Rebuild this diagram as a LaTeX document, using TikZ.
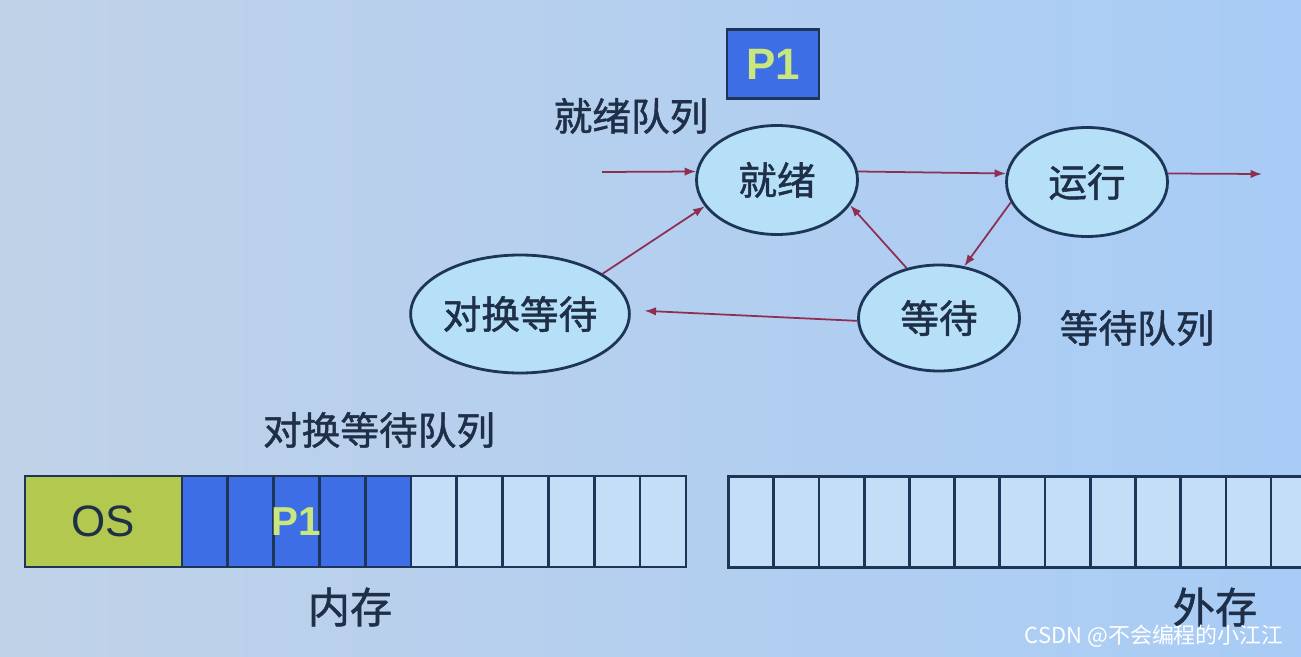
\documentclass[tikz,border=0pt]{standalone}
\usepackage{fontspec}
\setmainfont{Noto Sans CJK SC}
\newfontfamily\cjkmed[FakeBold=1.2]{Noto Sans CJK SC}
\setsansfont{Liberation Sans}
\usetikzlibrary{positioning,arrows.meta,shapes.geometric}
\definecolor{bgleft}{HTML}{C0D2E8}
\definecolor{bgright}{HTML}{A8CCF6}
\definecolor{ink}{HTML}{1E2F47}
\definecolor{edge}{HTML}{1D3557}
\definecolor{statefill}{HTML}{B5E0F7}
\definecolor{link}{HTML}{8E2F52}
\definecolor{procblue}{HTML}{3D6EE6}
\definecolor{osgreen}{HTML}{B3C84E}
\definecolor{pgreen}{HTML}{C9E77C}
\definecolor{freecell}{HTML}{C4DEF7}
\tikzset{
  state/.style={ellipse, draw=edge, line width=1.6pt, fill=statefill, text=ink, font=\fontsize{22}{24}\cjkmed, minimum width=3.22cm, minimum height=2.18cm, inner sep=0pt},
  lbl/.style={text=ink, font=\fontsize{22}{24}\cjkmed},
  cell/.style={draw=edge, line width=1.5pt, minimum width=0.92cm, minimum height=1.82cm, inner sep=0pt, fill=freecell},
  arr/.style={-{Latex[length=2.3mm,width=1.7mm]}, line width=1pt, link}}

\begin{document}
\begin{tikzpicture}[x=0.2mm, y=-0.2mm]
\clip (0,0) rectangle (1301,656);
\shade[left color=bgleft, right color=bgright] (0,0) rectangle (1301,656);
% states
\node[state] (ready) at (777,180) {就绪};
\node[state] (run) at (1087,182) {运行};
\node[state, minimum height=2.12cm] (wait) at (939,318) {等待};
\node[state, minimum width=4.08cm, minimum height=2.36cm] (swap) at (520,314) {对换等待};
\node[draw=edge, line width=1.2pt, fill=procblue, text=pgreen, font=\fontsize{25}{27}\sffamily\bfseries, minimum width=1.84cm, minimum height=1.38cm] (p1) at (773,64) {P1};
\node[lbl] (readyq) at (631,116) {就绪队列};
\node[lbl] (waitq) at (1137,328) {等待队列};
\node[lbl] (swapq) at (379,430) {对换等待队列};
\coordinate (in) at (602,172);
\coordinate (out) at (1262,174);
\draw[arr] (in) -- (ready.174);
\draw[arr] (ready.6) -- (run.174);
\draw[arr] (run.6) -- (out);
\draw[arr] (run.195) -- (wait.64);
\draw[arr] (wait.123) -- (ready.341);
\draw[arr] (swap.26) -- (ready.200);
\draw[arr, shorten >=0.28cm] (wait.182) -- (swap.2);
% memory
\node[cell, fill=osgreen, minimum width=3.14cm, text=ink, font=\fontsize{25}{27}\sffamily] (os) at (103.5,521.5) {OS};
\foreach \i in {0,...,10}{
  \ifnum\i<5
    \node[cell, fill=procblue] (m\i) at (205+45.8*\i,521.5) {};
  \else
    \node[cell] (m\i) at (205+45.8*\i,521.5) {};
  \fi
}
\node[text=pgreen, font=\fontsize{23}{25}\sffamily\bfseries] (mp1) at (m2) {P1};
\node[lbl, font=\fontsize{24}{26}\cjkmed] (memlbl) at (350,607) {内存};
% disk
\foreach \i in {0,...,12}
  \node[cell] (d\i) at (751.6+45.2*\i,522) {};
\node[lbl, font=\fontsize{24}{26}\cjkmed] (disklbl) at (1215,607) {外存};
\node[text=white, font=\fontsize{12.5}{14}\selectfont, anchor=east] (mark) at (1290,636) {CSDN @不会编程的小江江};
\end{tikzpicture}
\end{document}
